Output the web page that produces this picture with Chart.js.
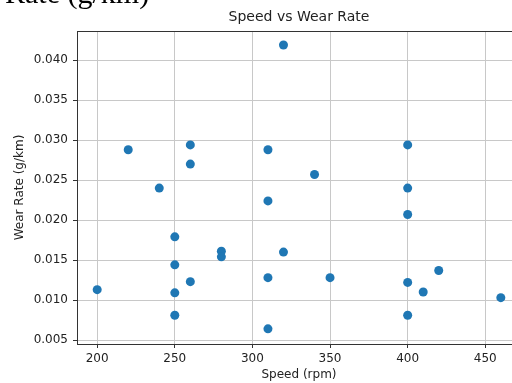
<!DOCTYPE html>
<html>
<head>
<meta charset="utf-8">
<script src="https://cdn.jsdelivr.net/npm/chart.js@4.4.1/dist/chart.umd.min.js"></script>
<style>
  html, body { margin: 0; padding: 0; background: #fff; overflow: hidden; width: 512px; height: 383px; }
  #wrap { position: absolute; left: 0; top: 0; width: 540px; height: 383px; }
  #clip { position: absolute; left: 5px; top: -22px; font-family: "Liberation Serif", "Times New Roman", serif; font-size: 30px; line-height: 30px; color: #000; white-space: nowrap; }
</style>
</head>
<body>
<div id="wrap"><canvas id="c" width="540" height="383"></canvas></div>
<div id="clip">Rate (g/km)</div>
<script>
const speeds = [200, 220, 240, 250, 250, 250, 250, 260, 260, 260, 280, 280, 310, 310, 310, 310, 320, 320, 340, 350, 400, 400, 400, 400, 400, 410, 420, 460];
const wearRates = [0.0113, 0.0288, 0.0240, 0.0179, 0.0144, 0.0109, 0.0081, 0.0294, 0.0270, 0.0123, 0.0161, 0.0154, 0.0288, 0.0224, 0.0128, 0.0064, 0.0419, 0.0160, 0.0257, 0.0128, 0.0294, 0.0240, 0.0207, 0.0122, 0.0081, 0.0110, 0.0137, 0.0103];
const xTicks = [200, 250, 300, 350, 400, 450];
const yTicks = [0.005, 0.010, 0.015, 0.020, 0.025, 0.030, 0.035, 0.040];
const chartTitle = "Speed vs Wear Rate";
const xLabel = "Speed (rpm)";
const yLabel = "Wear Rate (g/km)";

const points = speeds.map((s, i) => ({ x: s, y: wearRates[i] }));

const frame = {
  id: 'frame',
  beforeDraw(chart) {
    const ctx = chart.ctx;
    ctx.save();
    ctx.fillStyle = '#fff';
    ctx.fillRect(0, 0, chart.width, chart.height);
    ctx.restore();
  },
  afterDraw(chart) {
    const a = chart.chartArea, ctx = chart.ctx;
    ctx.save();
    ctx.strokeStyle = '#333';
    ctx.lineWidth = 1;
    ctx.beginPath();
    ctx.moveTo(a.left, Math.round(a.top) + 0.5);
    ctx.lineTo(a.right, Math.round(a.top) + 0.5);
    ctx.stroke();
    ctx.fillStyle = '#222';
    ctx.font = '14px "DejaVu Sans"';
    ctx.textAlign = 'center';
    ctx.textBaseline = 'middle';
    ctx.fillText(chartTitle, (a.left + a.right) / 2, 17);
    ctx.restore();
  }
};

new Chart(document.getElementById('c'), {
  type: 'scatter',
  data: {
    datasets: [{
      data: points,
      backgroundColor: '#1f77b4',
      borderWidth: 0,
      pointRadius: 4.5,
      pointHoverRadius: 4.5
    }]
  },
  options: {
    responsive: false,
    animation: false,
    devicePixelRatio: 1,
    layout: { padding: { left: 0, right: 19, top: 31, bottom: 0 } },
    plugins: {
      legend: { display: false },
      tooltip: { enabled: false },
      title: { display: false }
    },
    scales: {
      x: {
        type: 'linear',
        min: 187,
        max: 473,
        afterBuildTicks: (s) => { s.ticks = xTicks.map(v => ({ value: v })); },
        afterFit: (s) => { s.height = 39; },
        grid: { color: '#c8c8c8', lineWidth: 1, tickLength: 4, tickColor: '#333', drawTicks: true },
        border: { display: true, color: '#333', width: 1 },
        ticks: { color: '#222', font: { family: 'DejaVu Sans', size: 12 }, padding: 4, maxRotation: 0, autoSkip: false },
        title: { display: true, text: xLabel, color: '#222', font: { family: 'DejaVu Sans', size: 12 }, padding: { top: 0, bottom: 0.8 } }
      },
      y: {
        type: 'linear',
        min: 0.0045,
        max: 0.04365,
        afterBuildTicks: (s) => { s.ticks = yTicks.map(v => ({ value: v })); },
        afterFit: (s) => { s.width = 77; },
        grid: { color: '#c8c8c8', lineWidth: 1, tickLength: 4, tickColor: '#333', drawTicks: true },
        border: { display: true, color: '#333', width: 1 },
        ticks: { color: '#222', font: { family: 'DejaVu Sans', size: 12 }, padding: 5, autoSkip: false, callback: (v) => v.toFixed(3) },
        title: { display: true, text: yLabel, color: '#222', font: { family: 'DejaVu Sans', size: 12 }, padding: { top: 12.8, bottom: 0 } }
      }
    }
  },
  plugins: [frame]
});
</script>
</body>
</html>
